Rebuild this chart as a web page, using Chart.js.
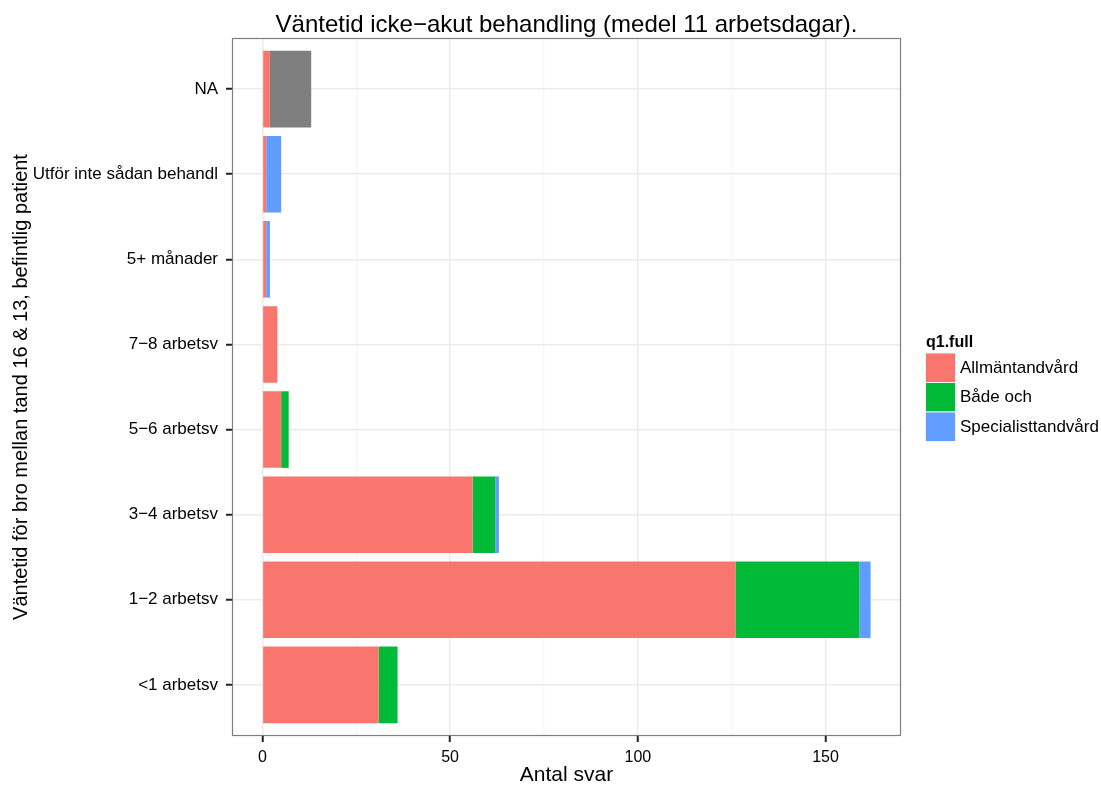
<!DOCTYPE html>
<html lang="sv">

<head>
    <meta charset="UTF-8">
    <title>Väntetid icke-akut behandling</title>
    <style>
        body {
            margin: 0;
            padding: 0;
            background-color: #ffffff;
        }

        #wrap {
            width: 1101px;
            height: 785px;
            position: relative;
        }
    </style>
</head>

<body>
    <div id="wrap"><canvas id="barChart"></canvas></div>

    <script src="https://cdn.jsdelivr.net/npm/chart.js"></script>

    <script>
        // categories, top to bottom
        const categories = ['NA', 'Utför inte sådan behandl', '5+ månader', '7−8 arbetsv', '5−6 arbetsv', '3−4 arbetsv', '1−2 arbetsv', '<1 arbetsv'];
        const allmanValues = [2, 1, 1, 4, 5, 56, 126, 31];
        const badeValues = [0, 0, 0, 0, 2, 6, 33, 5];
        const specValues = [0, 4, 1, 0, 0, 1, 3, 0];
        const naValues = [11, 0, 0, 0, 0, 0, 0, 0];
        const xTicks = [0, 50, 100, 150];
        const xMinorTicks = [25, 75, 125];

        const FONT = '"Liberation Sans", Arial, sans-serif';
        const legendItems = [
            { label: 'Allmäntandvård', color: '#F8766D' },
            { label: 'Både och', color: '#00BA38' },
            { label: 'Specialisttandvård', color: '#619CFF' }
        ];

        function toPoints(values) {
            return values.map((v, i) => ({ x: v, y: i + 1 }));
        }

        // titles, panel border and legend
        const decorPlugin = {
            id: 'decor',
            afterDraw(chart) {
                const c = chart.ctx;
                const a = chart.chartArea;
                c.save();
                c.strokeStyle = '#7f7f7f';
                c.lineWidth = 1.2;
                c.strokeRect(a.left + 0.5, a.top + 0.5, a.right - a.left - 1, a.bottom - a.top - 1);

                c.fillStyle = '#000000';
                c.textAlign = 'center';
                c.textBaseline = 'alphabetic';
                c.font = '24px ' + FONT;
                c.fillText('Väntetid icke−akut behandling (medel 11 arbetsdagar).', (a.left + a.right) / 2, 32);

                c.font = '21px ' + FONT;
                c.fillText('Antal svar', (a.left + a.right) / 2, 781);

                c.save();
                c.translate(27, (a.top + a.bottom) / 2);
                c.rotate(-Math.PI / 2);
                c.font = '20px ' + FONT;
                c.fillText('Väntetid för bro mellan tand 16 & 13, befintlig patient', 0, 0);
                c.restore();

                // legend
                c.textAlign = 'left';
                c.font = 'bold 16px ' + FONT;
                c.fillText('q1.full', 926, 347);
                c.font = '17px ' + FONT;
                c.textBaseline = 'middle';
                legendItems.forEach((item, i) => {
                    const y = 353 + i * 29.5;
                    c.fillStyle = '#f2f2f2';
                    c.fillRect(925, y - 0.5, 31, 30.5);
                    c.fillStyle = item.color;
                    c.fillRect(926, y + 0.5, 29, 28.5);
                    c.fillStyle = '#000000';
                    c.fillText(item.label, 960, y + 15);
                });
                c.restore();
            }
        };

        const ctx = document.getElementById('barChart').getContext('2d');

        const barChart = new Chart(ctx, {
            type: 'bar',
            data: {
                datasets: [
                    { label: 'Allmäntandvård', data: toPoints(allmanValues), backgroundColor: '#F8766D' },
                    { label: 'Både och', data: toPoints(badeValues), backgroundColor: '#00BA38' },
                    { label: 'Specialisttandvård', data: toPoints(specValues), backgroundColor: '#619CFF' },
                    { label: 'NA', data: toPoints(naValues), backgroundColor: '#7F7F7F' }
                ]
            },
            plugins: [decorPlugin],
            options: {
                indexAxis: 'y',
                responsive: true,
                maintainAspectRatio: false,
                animation: false,
                layout: {
                    padding: { left: 0, right: 200, top: 38, bottom: 0 }
                },
                datasets: {
                    bar: {
                        barPercentage: 0.9,
                        categoryPercentage: 1.0,
                        borderWidth: 0
                    }
                },
                scales: {
                    x: {
                        type: 'linear',
                        stacked: true,
                        min: -8.1,
                        max: 170.1,
                        afterBuildTicks(scale) {
                            scale.ticks = xTicks.concat(xMinorTicks).sort((p, q) => p - q).map(v => ({ value: v }));
                        },
                        afterFit(scale) {
                            scale.height = 49;
                        },
                        border: { display: false },
                        grid: {
                            color: (c) => (c.tick && xMinorTicks.includes(c.tick.value)) ? '#f7f7f7' : '#ebebeb',
                            tickColor: (c) => (c.tick && xMinorTicks.includes(c.tick.value)) ? 'rgba(0,0,0,0)' : '#222222',
                            lineWidth: 1.5,
                            tickLength: 6,
                            tickWidth: 2
                        },
                        ticks: {
                            autoSkip: false,
                            maxRotation: 0,
                            padding: 6,
                            color: '#000000',
                            font: { family: FONT, size: 16 },
                            callback: (v) => xTicks.includes(v) ? String(v) : ''
                        }
                    },
                    y: {
                        type: 'linear',
                        stacked: true,
                        reverse: true,
                        offset: false,
                        min: 0.4,
                        max: 8.6,
                        afterBuildTicks(scale) {
                            scale.ticks = categories.map((c, i) => ({ value: i + 1 }));
                        },
                        afterFit(scale) {
                            scale.width = 232;
                        },
                        border: { display: false },
                        grid: {
                            offset: false,
                            color: '#ebebeb',
                            tickColor: '#222222',
                            lineWidth: 1.5,
                            tickLength: 6,
                            tickWidth: 2
                        },
                        ticks: {
                            autoSkip: false,
                            padding: 8,
                            color: '#000000',
                            font: { family: FONT, size: 17 },
                            callback: (v) => categories[Math.round(v) - 1]
                        }
                    }
                },
                plugins: {
                    legend: { display: false },
                    title: { display: false },
                    tooltip: { enabled: false }
                }
            }
        });
    </script>
</body>

</html>
